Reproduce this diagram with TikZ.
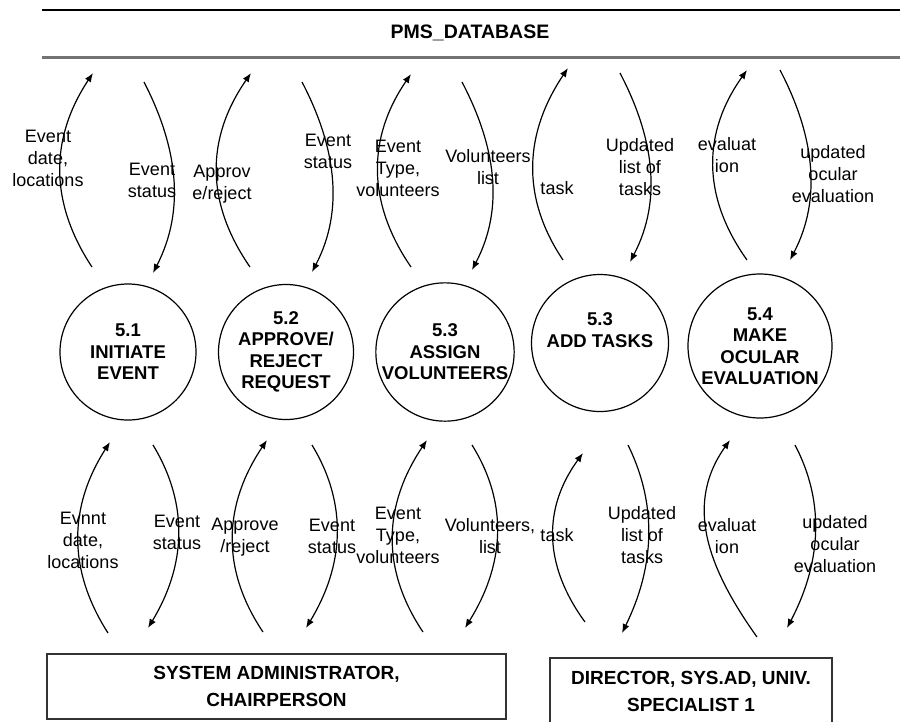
\documentclass[tikz,border=0pt]{standalone}
\usepackage{fontspec}
\setmainfont{Liberation Sans}
\usetikzlibrary{arrows.meta}

\tikzset{
  proc/.style={draw, circle, line width=1.2pt, align=center, inner sep=0pt, font=\fontsize{18.5}{21.5}\selectfont\bfseries},
  lbl/.style={align=center, inner sep=0pt, font=\fontsize{18}{22}\selectfont},
  flow/.style={line width=1.2pt, -{Latex[length=9pt,width=7pt]}},
  ent/.style={draw=black!80, line width=1.5pt, align=center, font=\fontsize{19}{27}\selectfont\bfseries}
}

\begin{document}
\begin{tikzpicture}[x=1pt,y=-1pt]
\useasboundingbox (0,0) rectangle (900,721);

\draw[line width=1.8pt] (42,10) -- (900,10);
\draw[line width=3pt,black!55] (42,57) -- (900,57);
\node[font=\fontsize{19.5}{22}\selectfont\bfseries] (db) at (470,33) {PMS\_DATABASE};

\node[proc,minimum size=136pt] (p1) at (128,352) {5.1\\INITIATE\\EVENT};
\node[proc,minimum size=135pt] (p2) at (286,352) {5.2\\APPROVE/\\REJECT\\REQUEST};
\node[proc,minimum size=134pt] (p3) at (445,352) {5.3\\ASSIGN\\VOLUNTEERS};
\node[proc,minimum size=137pt] (p4) at (600,343) {5.3\\ADD TASKS\\[4pt]};
\node[proc,minimum size=144pt] (p5) at (760,346) {5.4\\MAKE\\OCULAR\\EVALUATION};

\node[ent,minimum width=459pt,minimum height=65pt] (e1) at (276.5,686.5) {SYSTEM ADMINISTRATOR,\\CHAIRPERSON};
\node[ent,minimum width=282pt,minimum height=67pt] (e2) at (691,691.5) {DIRECTOR, SYS.AD, UNIV.\\SPECIALIST 1};

% flows to and from the database
\coordinate (t1a) at (92,267);  \coordinate (t1b) at (93,73);
\coordinate (t2a) at (144,82);  \coordinate (t2b) at (153,273);
\coordinate (t3a) at (250,267); \coordinate (t3b) at (251,73);
\coordinate (t4a) at (302,82);  \coordinate (t4b) at (312,272);
\coordinate (t5a) at (411,267); \coordinate (t5b) at (411,74);
\coordinate (t6a) at (462,82);  \coordinate (t6b) at (472,270);
\coordinate (t7a) at (563,260); \coordinate (t7b) at (568,68);
\coordinate (t8a) at (620,73);  \coordinate (t8b) at (630,262);
\coordinate (t9a) at (747,260); \coordinate (t9b) at (747,70);
\coordinate (t10a) at (780,70); \coordinate (t10b) at (790,260);

\draw[flow] (t1a) .. controls +(-43,-65) and +(-43,65) .. (t1b);
\draw[flow] (t2a) .. controls +(33,64) and +(33,-64) .. (t2b);
\draw[flow] (t3a) .. controls +(-45,-65) and +(-45,65) .. (t3b);
\draw[flow] (t4a) .. controls +(33,63) and +(33,-63) .. (t4b);
\draw[flow] (t5a) .. controls +(-44,-64) and +(-44,64) .. (t5b);
\draw[flow] (t6a) .. controls +(33,63) and +(33,-63) .. (t6b);
\draw[flow] (t7a) .. controls +(-43,-64) and +(-43,64) .. (t7b);
\draw[flow] (t8a) .. controls +(33,63) and +(33,-63) .. (t8b);
\draw[flow] (t9a) .. controls +(-45,-63) and +(-45,63) .. (t9b);
\draw[flow] (t10a) .. controls +(33,63) and +(33,-63) .. (t10b);

\node[lbl] (lt1) at (48,158) {Event\\date,\\locations};
\node[lbl] (lt2) at (152,180) {Event\\status};
\node[lbl] (lt3) at (222,184) {Approv\\e/reject};
\node[lbl] (lt4) at (328,151) {Event\\status};
\node[lbl] (lt5) at (398,168) {Event\\Type,\\volunteers};
\node[lbl] (lt6) at (488,167) {Volunteers\\list};
\node[lbl] (lt7) at (557,188) {task};
\node[lbl] (lt8) at (640,167) {Updated\\list of\\tasks};
\node[lbl] (lt9) at (727,155) {evaluat\\ion};
\node[lbl] (lt10) at (833,174) {updated\\ocular\\evaluation};

% flows to and from the externals
\coordinate (b1a) at (108,633); \coordinate (b1b) at (110,442);
\coordinate (b2a) at (153,445); \coordinate (b2b) at (148,628);
\coordinate (b3a) at (263,632); \coordinate (b3b) at (267,440);
\coordinate (b4a) at (312,445); \coordinate (b4b) at (306,628);
\coordinate (b5a) at (423,632); \coordinate (b5b) at (427,440);
\coordinate (b6a) at (472,445); \coordinate (b6b) at (465,628);
\coordinate (b7a) at (585,622); \coordinate (b7b) at (583,453);
\coordinate (b8a) at (628,445); \coordinate (b8b) at (622,633);
\coordinate (b9a) at (757,637); \coordinate (b9b) at (730,440);
\coordinate (b10a) at (795,445); \coordinate (b10b) at (787,628);

\draw[flow] (b1a) .. controls +(-41,-64) and +(-41,64) .. (b1b);
\draw[flow] (b2a) .. controls +(37,61) and +(37,-61) .. (b2b);
\draw[flow] (b3a) .. controls +(-43,-64) and +(-43,64) .. (b3b);
\draw[flow] (b4a) .. controls +(37,61) and +(37,-61) .. (b4b);
\draw[flow] (b5a) .. controls +(-43,-64) and +(-43,64) .. (b5b);
\draw[flow] (b6a) .. controls +(38,61) and +(38,-61) .. (b6b);
\draw[flow] (b7a) .. controls +(-41,-56) and +(-41,56) .. (b7b);
\draw[flow] (b8a) .. controls +(31,63) and +(31,-63) .. (b8b);
\draw[flow] (b9a) .. controls +(-47,-66) and +(-47,66) .. (b9b);
\draw[flow] (b10a) .. controls +(32,61) and +(32,-61) .. (b10b);

\node[lbl] (lb1) at (83,540) {Evnnt\\date,\\locations};
\node[lbl] (lb2) at (177,532) {Event\\status};
\node[lbl] (lb3) at (245,537) {Approve\\/reject};
\node[lbl] (lb4) at (332,536) {Event\\status};
\node[lbl] (lb5) at (398,535) {Event\\Type,\\volunteers};
\node[lbl] (lb6) at (490,536) {Volunteers,\\list};
\node[lbl] (lb7) at (557,535) {task};
\node[lbl] (lb8) at (642,535) {Updated\\list of\\tasks};
\node[lbl] (lb9) at (727,536) {evaluat\\ion};
\node[lbl] (lb10) at (835,544) {updated\\ocular\\evaluation};

\end{tikzpicture}
\end{document}
